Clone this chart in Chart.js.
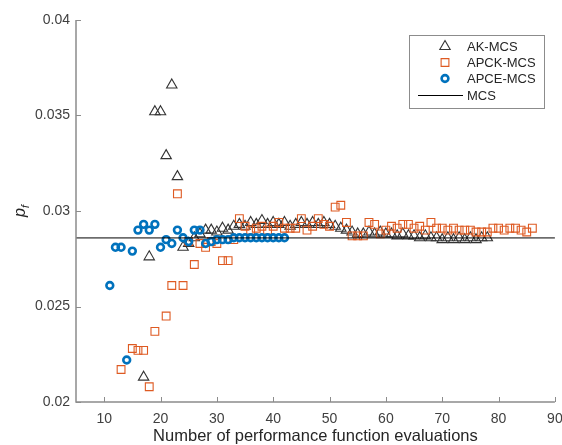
<!DOCTYPE html>
<html><head><meta charset="utf-8">
<script src="https://cdn.jsdelivr.net/npm/chart.js@4"></script>
<style>html,body{margin:0;padding:0;background:#fff}#wrap{width:562px;height:445px}</style>
</head><body><div id="wrap"><canvas id="c" width="562" height="445"></canvas></div>
<script>
// ---- data ----
const akX = [17,18,19,20,21,22,23,24,25,26,27,28,29,30,31,32,33,34,35,36,37,38,39,40,41,42,43,44,45,46,47,48,49,50,51,52,53,54,55,56,57,58,59,60,61,62,63,64,65,66,67,68,69,70,71,72,73,74,75,76,77,78];
const akY = [0.0213,0.0276,0.0352,0.0352,0.0329,0.0366,0.0318,0.0281,0.0283,0.0286,0.0288,0.0290,0.0290,0.0289,0.0291,0.0290,0.0292,0.0293,0.0292,0.0294,0.0293,0.0295,0.0293,0.0294,0.0293,0.0294,0.0292,0.0293,0.0294,0.0293,0.0294,0.0293,0.0294,0.0293,0.0292,0.0291,0.0290,0.0289,0.0288,0.0288,0.0289,0.0288,0.0289,0.0288,0.0288,0.0287,0.0288,0.0287,0.0287,0.0286,0.0287,0.0286,0.0286,0.0285,0.0286,0.0285,0.0286,0.0285,0.0286,0.0285,0.0286,0.0286];
const apckX = [13,15,16,17,18,19,21,22,23,24,25,26,27,28,29,30,31,32,33,34,35,36,37,38,39,40,41,42,43,44,45,46,47,48,49,50,51,52,53,54,55,56,57,58,59,60,61,62,63,64,65,66,67,68,69,70,71,72,73,74,75,76,77,78,79,80,81,82,83,84,85,86];
const apckY = [0.0217,0.0228,0.0227,0.0227,0.0208,0.0237,0.0245,0.0261,0.0309,0.0261,0.0284,0.0272,0.0283,0.0281,0.0284,0.0283,0.0274,0.0274,0.0285,0.0296,0.0292,0.0290,0.0291,0.0292,0.0290,0.0292,0.0294,0.0291,0.0291,0.0291,0.0296,0.0290,0.0292,0.0296,0.0293,0.0292,0.0302,0.0303,0.0294,0.0287,0.0287,0.0287,0.0294,0.0293,0.0288,0.0290,0.0292,0.0291,0.0293,0.0293,0.0291,0.0292,0.0290,0.0294,0.0291,0.0291,0.0290,0.0291,0.0290,0.0290,0.0290,0.0289,0.0289,0.0289,0.0291,0.0291,0.0290,0.0291,0.0291,0.0290,0.0289,0.0291];
const apceX = [11,12,13,14,15,16,17,18,19,20,21,22,23,24,25,26,27,28,29,30,31,32,33,34,35,36,37,38,39,40,41,42];
const apceY = [0.0261,0.0281,0.0281,0.0222,0.0279,0.0290,0.0293,0.0290,0.0293,0.0281,0.0285,0.0283,0.0290,0.0286,0.0284,0.0290,0.0290,0.0283,0.0284,0.0285,0.0285,0.0285,0.0286,0.0286,0.0286,0.0286,0.0286,0.0286,0.0286,0.0286,0.0286,0.0286];
const mcsValue = 0.02859;
const seriesNames = ['AK-MCS','APCK-MCS','APCE-MCS','MCS'];
const xTicks = [10,20,30,40,50,60,70,80,90];
const yTicks = [0.02,0.025,0.03,0.035,0.04];
const yTickLabels = ['0.02','0.025','0.03','0.035','0.04'];
const xTitle = 'Number of performance function evaluations';
const yTitleMain = 'p';
const yTitleSub = 'f';

const pts = (xs, ys) => xs.map((x, i) => ({x: x, y: ys[i]}));
const FONT = '"Liberation Sans", Arial, Helvetica, sans-serif';
const AXIS = '#8c8c8c';
const TXT = '#404040';

const styles = {
  ak:   {c:'#333333'},
  apck: {c:'#DE5A22'},
  apce: {c:'#0072BD'}
};

const extras = {
  id: 'extras',
  afterDraw(chart) {
    const ctx = chart.ctx;
    const xs = chart.scales.x, ys = chart.scales.y;
    const a = chart.chartArea;
    ctx.save();
    // axes lines
    ctx.strokeStyle = AXIS; ctx.lineWidth = 1.5;
    ctx.beginPath();
    ctx.moveTo(a.left, a.top); ctx.lineTo(a.left, a.bottom); ctx.lineTo(a.right, a.bottom);
    ctx.stroke();
    // inward ticks
    ctx.lineWidth = 1;
    ctx.beginPath();
    xTicks.forEach(v => { const p = Math.round(xs.getPixelForValue(v)) + 0.5; ctx.moveTo(p, a.bottom); ctx.lineTo(p, a.bottom - 5); });
    yTicks.forEach(v => { const p = Math.round(ys.getPixelForValue(v)) + 0.5; ctx.moveTo(a.left, p); ctx.lineTo(a.left + 5, p); });
    ctx.stroke();
    // x title
    ctx.fillStyle = '#262626';
    ctx.font = '16.5px ' + FONT;
    ctx.textAlign = 'center'; ctx.textBaseline = 'middle';
    ctx.fillText(xTitle, (a.left + a.right) / 2 + 0, 436);
    // y title (rotated, italic p with subscript f)
    ctx.save();
    ctx.translate(22, ys.getPixelForValue(0.03));
    ctx.rotate(-Math.PI / 2);
    ctx.textAlign = 'left'; ctx.textBaseline = 'middle';
    ctx.font = 'italic 16px ' + FONT;
    const pw = ctx.measureText(yTitleMain).width;
    ctx.font = 'italic 11px ' + FONT;
    const fw = ctx.measureText(yTitleSub).width;
    const start = -(pw + fw) / 2;
    ctx.font = 'italic 16px ' + FONT;
    ctx.fillText(yTitleMain, start, -1);
    ctx.font = 'italic 11px ' + FONT;
    ctx.fillText(yTitleSub, start + pw, 4);
    ctx.restore();
    // legend
    const lx = 409.5, ly = 35.5, lw = 135, lh = 73;
    ctx.fillStyle = '#fff'; ctx.fillRect(lx, ly, lw, lh);
    ctx.strokeStyle = AXIS; ctx.lineWidth = 1; ctx.strokeRect(lx, ly, lw, lh);
    const rows = [46.5, 62.5, 78.5, 95];
    const mx = 445, tx = 467;
    ctx.font = '13px ' + FONT;
    ctx.textAlign = 'left'; ctx.textBaseline = 'middle';
    chart.data.datasets.forEach((ds, i) => {
      const y = rows[i];
      if (ds.showLine) {
        ctx.strokeStyle = ds.borderColor; ctx.lineWidth = 1;
        ctx.beginPath(); ctx.moveTo(418, y + 0.5); ctx.lineTo(463, y + 0.5); ctx.stroke();
      } else {
        ctx.fillStyle = 'rgba(0,0,0,0)';
        ctx.strokeStyle = ds.borderColor; ctx.lineWidth = ds.borderWidth;
        Chart.helpers.drawPoint(ctx, {pointStyle: ds.pointStyle, radius: ds.pointRadius, borderWidth: ds.borderWidth, rotation: 0}, mx, y);
      }
      ctx.fillStyle = '#262626';
      ctx.fillText(ds.label, tx, y + 1);
    });
    ctx.restore();
  }
};

new Chart(document.getElementById('c'), {
  type: 'scatter',
  data: {
    datasets: [
      {label: seriesNames[0], data: pts(akX, akY), pointStyle: 'triangle', pointRadius: 6, borderWidth: 1.1,
       borderColor: styles.ak.c, backgroundColor: 'rgba(0,0,0,0)', order: 3},
      {label: seriesNames[1], data: pts(apckX, apckY), pointStyle: 'rect', pointRadius: 5.5, borderWidth: 1.1,
       borderColor: styles.apck.c, backgroundColor: 'rgba(0,0,0,0)', order: 2},
      {label: seriesNames[2], data: pts(apceX, apceY), pointStyle: 'circle', pointRadius: 3.4, borderWidth: 2.6,
       borderColor: styles.apce.c, backgroundColor: 'rgba(0,0,0,0)', order: 1},
      {label: seriesNames[3], data: [{x: 5, y: mcsValue}, {x: 90, y: mcsValue}], showLine: true, pointRadius: 0,
       borderColor: '#000000', borderWidth: 1, order: 0}
    ]
  },
  options: {
    responsive: false, animation: false, devicePixelRatio: 1,
    layout: {padding: {left: 0, top: 20, right: 4, bottom: 0}},
    plugins: {legend: {display: false}, tooltip: {enabled: false}},
    scales: {
      x: {type: 'linear', min: 5, max: 90,
          afterBuildTicks: s => { s.ticks = xTicks.map(v => ({value: v})); },
          afterFit: s => { s.height = 43; s.paddingLeft = 0; s.paddingRight = 0; },
          grid: {display: false, drawTicks: false}, border: {display: false},
          ticks: {padding: 9, color: TXT, font: {family: FONT, size: 14}, maxRotation: 0, autoSkip: false}},
      y: {type: 'linear', min: 0.02, max: 0.04,
          afterBuildTicks: s => { s.ticks = yTicks.map(v => ({value: v})); },
          afterFit: s => { s.width = 76; s.paddingTop = 0; s.paddingBottom = 0; },
          grid: {display: false, drawTicks: false}, border: {display: false},
          ticks: {padding: 6, color: TXT, font: {family: FONT, size: 14}, autoSkip: false,
                  callback: (v, i) => yTickLabels[yTicks.indexOf(v)] }}
    }
  },
  plugins: [extras]
});
</script>
</body></html>
